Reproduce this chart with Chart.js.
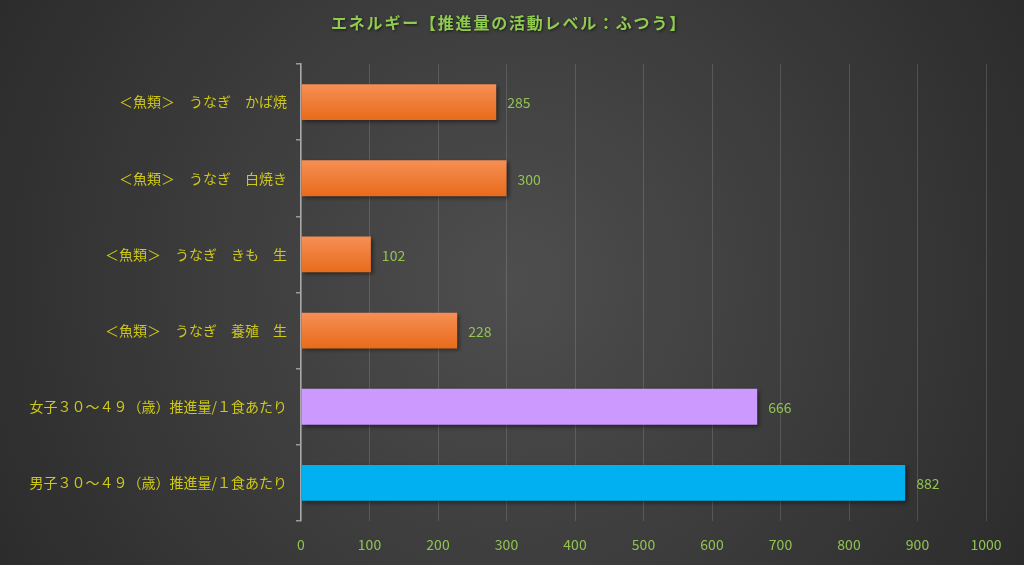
<!DOCTYPE html>
<html>
<head>
<meta charset="utf-8">
<script src="https://cdn.jsdelivr.net/npm/chart.js@4/dist/chart.umd.min.js"></script>
<style>
  html, body { margin: 0; padding: 0; background: #333; }
  #wrap { width: 1024px; height: 565px; position: relative; }
</style>
</head>
<body>
<div id="wrap"><canvas id="mainCanvas"></canvas></div>
<script>
// data
const chartTitle = 'エネルギー【推進量の活動レベル：ふつう】';
const categories = [
    '＜魚類＞　うなぎ　かば焼',
    '＜魚類＞　うなぎ　白焼き',
    '＜魚類＞　うなぎ　きも　生',
    '＜魚類＞　うなぎ　養殖　生',
    '女子３０～４９（歳）推進量/１食あたり',
    '男子３０～４９（歳）推進量/１食あたり'
];
const energyValues = [285, 300, 102, 228, 666, 882];
const xTicks = [0, 100, 200, 300, 400, 500, 600, 700, 800, 900, 1000];

const font = '"Noto Sans CJK JP", "Noto Sans", sans-serif';
let ctx = document.getElementById('mainCanvas').getContext('2d');

function barColor(c) {
    if (c.dataIndex === 4) return '#cc99ff';
    if (c.dataIndex === 5) return '#00b0f0';
    return '#ee7a30';
}

// radial dark background
const bgPlugin = {
    id: 'bg',
    beforeDraw(chart) {
        const c = chart.ctx;
        const w = chart.width, h = chart.height;
        const g = c.createRadialGradient(w / 2, h / 2, 0, w / 2, h / 2, w * 0.6);
        g.addColorStop(0, '#4e4e4e');
        g.addColorStop(1, '#2a2a2a');
        c.save();
        c.fillStyle = g;
        c.fillRect(0, 0, w, h);
        c.restore();
    }
};

// orange gradient on the eel bars + soft shadow under all bars
const shadowPlugin = {
    id: 'barShadow',
    beforeDatasetsDraw(chart) {
        const c = chart.ctx;
        const meta = chart.getDatasetMeta(0);
        meta.data.forEach((bar, i) => {
            if (i > 3) return;
            const h = bar.height;
            const g = c.createLinearGradient(0, bar.y - h / 2, 0, bar.y + h / 2);
            g.addColorStop(0, '#f68f55');
            g.addColorStop(1, '#e86b1a');
            bar.options.backgroundColor = g;
        });
        c.save();
        c.shadowColor = 'rgba(0,0,0,0.45)';
        c.shadowBlur = 4;
        c.shadowOffsetX = 2;
        c.shadowOffsetY = 2;
    },
    afterDatasetsDraw(chart) {
        chart.ctx.restore();
    }
};

// value labels at the end of each bar + title
const labelPlugin = {
    id: 'valueLabels',
    afterDatasetsDraw(chart) {
        const c = chart.ctx;
        const meta = chart.getDatasetMeta(0);
        c.save();
        c.font = '14px ' + font;
        c.fillStyle = '#92c353';
        c.textAlign = 'left';
        c.textBaseline = 'middle';
        meta.data.forEach((bar, i) => {
            c.fillText(String(energyValues[i]), bar.x + 11, bar.y + 1);
        });
        c.restore();
    },
    afterDraw(chart) {
        const c = chart.ctx;
        c.save();
        c.font = 'bold 16px ' + font;
        c.letterSpacing = '1.8px';
        c.fillStyle = '#8fcb4f';
        c.textAlign = 'center';
        c.textBaseline = 'middle';
        c.shadowColor = 'rgba(0,0,0,0.6)';
        c.shadowBlur = 3;
        c.shadowOffsetX = 1;
        c.shadowOffsetY = 1;
        c.fillText(chartTitle, 509, 23);
        c.restore();
    }
};

window.myChart = new Chart(ctx, {
    type: 'bar',
    data: {
        labels: categories,
        datasets: [{
            data: energyValues,
            backgroundColor: barColor,
            borderWidth: 0,
            barPercentage: 0.47,
            categoryPercentage: 1
        }]
    },
    options: {
        indexAxis: 'y',
        responsive: true,
        maintainAspectRatio: false,
        animation: false,
        layout: { padding: { top: 64, right: 38, left: 0, bottom: 0 } },
        plugins: {
            legend: { display: false },
            tooltip: { enabled: false },
            title: { display: false }
        },
        scales: {
            x: {
                min: 0,
                max: 1000,
                afterBuildTicks: s => { s.ticks = xTicks.map(v => ({ value: v })); },
                afterFit: s => { s.height = 44; },
                grid: {
                    color: 'rgba(255,255,255,0.14)',
                    lineWidth: 1,
                    drawTicks: false
                },
                border: { display: false },
                ticks: {
                    color: '#92c353',
                    font: { family: font, size: 14 },
                    padding: 15,
                    callback: v => String(v)
                }
            },
            y: {
                afterFit: s => { s.width = 301; },
                grid: {
                    offset: true,
                    drawOnChartArea: false,
                    color: '#9a9a9a',
                    tickLength: 5,
                    lineWidth: 1.5
                },
                border: { display: true, color: '#a8a8a8', width: 1.5 },
                ticks: {
                    color: '#cdc818',
                    font: { family: font, size: 14 },
                    padding: 9
                }
            }
        }
    },
    plugins: [bgPlugin, shadowPlugin, labelPlugin]
});
</script>
</body>
</html>
